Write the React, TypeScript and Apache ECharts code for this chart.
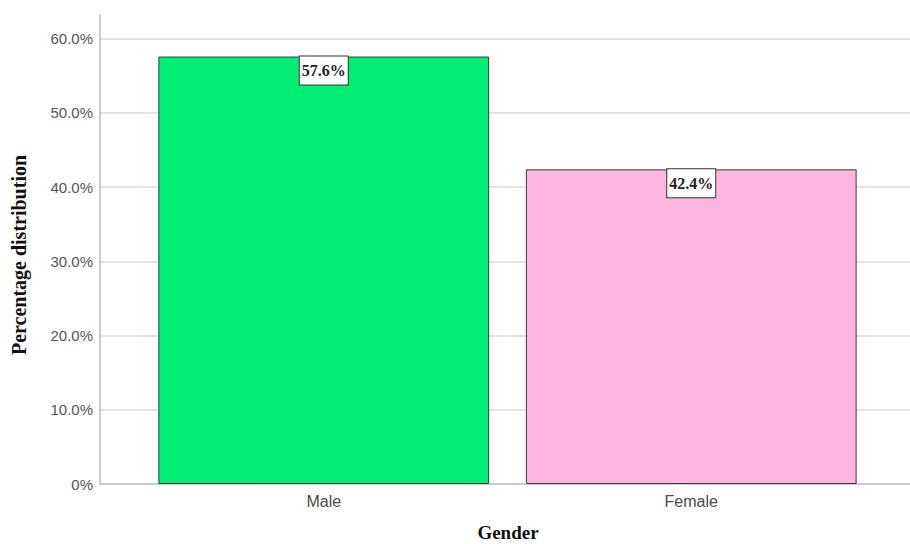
import React, { useEffect, useRef } from "react";
import * as echarts from "echarts";

const categories = ["Male", "Female"];
const percentages = [57.6, 42.4];
const barColors = ["#00EE76", "#FDB6DE"];
const yAxisMax = 63.2;

export default function App() {
  const ref = useRef<HTMLDivElement>(null);
  useEffect(() => {
    if (!ref.current) return;
    const chart = echarts.init(ref.current, undefined, { renderer: "svg" });
    const fmt = (v: number) => (v === 0 ? "0%" : v.toFixed(1) + "%");
    chart.setOption({
      animation: false,
      backgroundColor: "#ffffff",
      grid: [
        { left: 100, right: 0, top: 15, bottom: 60 },
        { left: 140, right: 35, top: 15, bottom: 60 },
      ],
      xAxis: [
        {
          gridIndex: 0,
          type: "value",
          min: 0,
          max: 1,
          axisLine: { show: true, onZero: false, lineStyle: { color: "#b8b8b8", width: 1.5 } },
          axisTick: { show: false },
          axisLabel: { show: false },
          splitLine: { show: false },
        },
        {
          gridIndex: 1,
          type: "category",
          data: categories,
          axisLine: { show: false },
          axisTick: { show: false },
          axisLabel: { color: "#4a4a4a", fontSize: 16, fontFamily: "Arial, 'Liberation Sans', sans-serif", margin: 9 },
        },
      ],
      yAxis: [
        {
          gridIndex: 0,
          type: "value",
          min: 0,
          max: yAxisMax,
          interval: 10,
          axisLine: { show: true, lineStyle: { color: "#b8b8b8", width: 1.5 } },
          axisTick: { show: false },
          axisLabel: {
            color: "#555555",
            fontSize: 15,
            fontFamily: "Arial, 'Liberation Sans', sans-serif",
            margin: 7,
            showMaxLabel: false,
            formatter: fmt,
          },
          splitLine: { show: true, showMaxLine: false, showMinLine: false, lineStyle: { color: "#dadada", width: 1.5 } },
        },
        {
          gridIndex: 1,
          type: "value",
          min: 0,
          max: yAxisMax,
          show: false,
          splitLine: { show: false },
        },
      ],
      graphic: [
        {
          type: "text",
          x: 19,
          y: 255,
          rotation: Math.PI / 2,
          style: {
            text: "Percentage distribution",
            font: "bold 20px 'Liberation Serif', 'Times New Roman', serif",
            fill: "#111",
            align: "center",
            verticalAlign: "middle",
          },
        },
        {
          type: "text",
          x: 508,
          y: 532,
          style: {
            text: "Gender",
            font: "bold 19px 'Liberation Serif', 'Times New Roman', serif",
            fill: "#111",
            align: "center",
            verticalAlign: "middle",
          },
        },
      ],
      series: [
        {
          type: "bar",
          xAxisIndex: 1,
          yAxisIndex: 1,
          barCategoryGap: "10%",
          data: percentages.map((v, i) => ({ value: v, itemStyle: { color: barColors[i] } })),
          itemStyle: { borderColor: "#3a3a3a", borderWidth: 1 },
          label: {
            show: true,
            position: "insideTop",
            distance: 0,
            formatter: (p: any) => p.value.toFixed(1) + "%",
            fontFamily: "'Liberation Serif', 'Times New Roman', serif",
            fontWeight: "bold",
            fontSize: 16,
            color: "#222",
            backgroundColor: "#ffffff",
            borderColor: "#333",
            borderWidth: 1,
            padding: [6, 2, 6, 2],
          },
        },
      ],
    });
    return () => chart.dispose();
  }, []);
  return <div ref={ref} style={{ position: "fixed", left: 0, top: 0, width: 910, height: 544 }} />;
}
